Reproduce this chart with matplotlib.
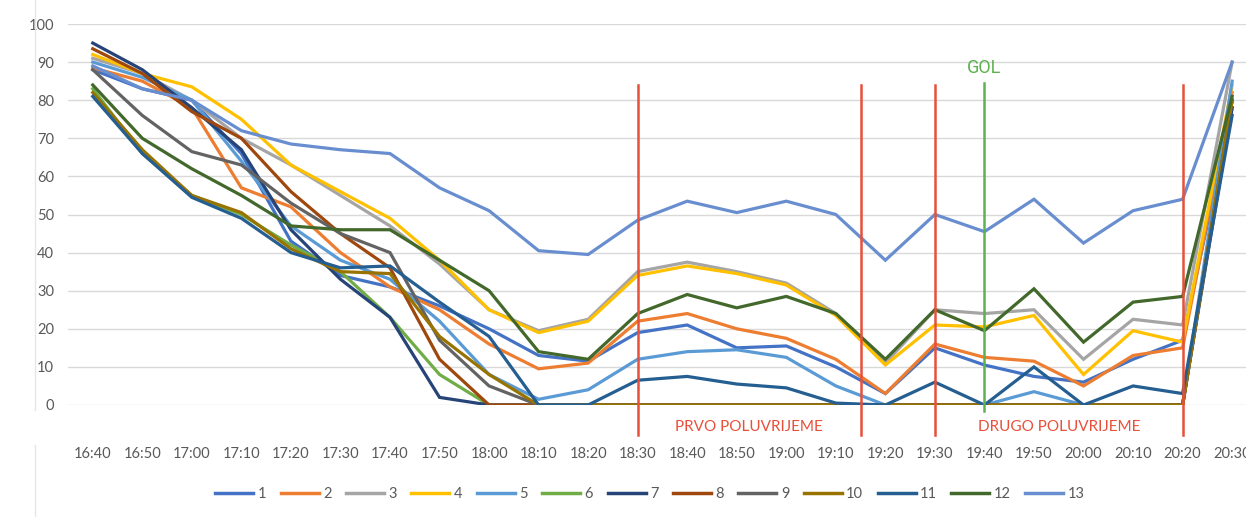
import numpy as np
import matplotlib.pyplot as plt
from matplotlib.lines import Line2D

times = ["16:40", "16:50", "17:00", "17:10", "17:20", "17:30", "17:40", "17:50",
         "18:00", "18:10", "18:20", "18:30", "18:40", "18:50", "19:00", "19:10",
         "19:20", "19:30", "19:40", "19:50", "20:00", "20:10", "20:20", "20:30"]

s1 = [88, 83, 80, 66, 43, 34, 31, 26, 20, 13, 11.5, 19, 21, 15, 15.5, 10, 3, 15, 10.5, 7.5, 6, 12, 17, 78]
s2 = [88.5, 85, 78, 57, 52, 40, 31, 25, 16, 9.5, 11, 22, 24, 20, 17.5, 12, 3, 16, 12.5, 11.5, 5, 13, 15, 82]
s3 = [91, 87, 80, 70, 63, 55, 47, 37, 25, 19.5, 22.5, 35, 37.5, 35, 32, 24, 11, 25, 24, 25, 12, 22.5, 21, 90]
s4 = [92, 87, 83.5, 75, 63, 56, 49, 38, 25, 19, 22, 34, 36.5, 34.5, 31.5, 23.5, 10.5, 21, 20.5, 23.5, 8, 19.5, 16.5, 84]
s5 = [90, 86, 80, 64, 47, 38, 33, 22, 8, 1.5, 4, 12, 14, 14.5, 12.5, 5, 0, 0, 0, 3.5, 0, 0, 0, 85]
s6 = [83, 66, 55, 50, 42, 35, 23, 8, 0, 0, 0, 0, 0, 0, 0, 0, 0, 0, 0, 0, 0, 0, 0, 80]
s7 = [95, 88, 78, 67, 46, 33, 23, 2, 0, 0, 0, 0, 0, 0, 0, 0, 0, 0, 0, 0, 0, 0, 0, 78]
s8 = [93.5, 87, 77, 70, 56, 45, 36, 12, 0, 0, 0, 0, 0, 0, 0, 0, 0, 0, 0, 0, 0, 0, 0, 80]
s9 = [88, 76, 66.5, 63, 53, 45, 40, 17, 5, 0, 0, 0, 0, 0, 0, 0, 0, 0, 0, 0, 0, 0, 0, 80]
s10 = [82, 67, 55, 50.5, 41, 35, 34.5, 18, 8, 0, 0, 0, 0, 0, 0, 0, 0, 0, 0, 0, 0, 0, 0, 80]
s11 = [81, 66, 54.5, 49, 40, 36, 36.5, 27, 18, 0, 0, 6.5, 7.5, 5.5, 4.5, 0.5, 0, 6, 0, 10, 0, 5, 3, 76]
s12 = [84, 70, 62, 55, 47, 46, 46, 38, 30, 14, 12, 24, 29, 25.5, 28.5, 24, 12, 25, 19.5, 30.5, 16.5, 27, 28.5, 81]
s13 = [89, 83, 80, 72, 68.5, 67, 66, 57, 51, 40.5, 39.5, 48.5, 53.5, 50.5, 53.5, 50, 38, 50, 45.5, 54, 42.5, 51, 54, 90]

series = [s1, s2, s3, s4, s5, s6, s7, s8, s9, s10, s11, s12, s13]
names = [str(i) for i in range(1, 14)]
colors = ["#4472C4", "#ED7D31", "#A5A5A5", "#FFC000", "#5B9BD5", "#70AD47",
          "#264478", "#9E480E", "#636363", "#997300", "#255E91", "#43682B", "#698ED0"]

# marker positions (category index) for halves and goal
half_lines = [11, 15.5, 17, 22]
goal_at = 18

plt.rcParams['font.family'] = ['Lato', 'DejaVu Sans']

fig = plt.figure(figsize=(12.46, 5.17), dpi=100)
ax = fig.add_axes([68 / 1246, 1 - 405 / 517, 1 - 68 / 1246, (405 - 24) / 517])

x = np.arange(len(times))
for vals, c in zip(series, colors):
    ax.plot(x, vals, color=c, lw=2.3, solid_joinstyle='miter')

for hx in half_lines:
    ax.plot([hx, hx], [-7.9, 84], color="#E8503A", lw=1.8, clip_on=False, zorder=5)
ax.plot([goal_at, goal_at], [-1.5, 84.5], color="#5DB14E", lw=1.8, clip_on=False, zorder=5)

ax.text(goal_at, 88.5, "GOL", color="#5DB14E", fontsize=13, ha="center", va="center",
        family=["Roboto", "DejaVu Sans"], fontstretch="condensed")
ax.text((half_lines[0] + half_lines[1]) / 2, -5.8, "PRVO POLUVRIJEME", color="#E8503A",
        fontsize=11, ha="center", va="center")
ax.text((half_lines[2] + half_lines[3]) / 2, -5.8, "DRUGO POLUVRIJEME", color="#E8503A",
        fontsize=11, ha="center", va="center")

ax.set_xlim(-0.5, 23.28)
ax.set_ylim(0, 100)
ax.set_yticks(np.arange(0, 101, 10))
ax.set_xticks(x)
ax.set_xticklabels(times)
ax.yaxis.grid(True, color="#D9D9D9", lw=1)
ax.set_axisbelow(True)
for sp in ax.spines.values():
    sp.set_visible(False)
ax.tick_params(axis="x", length=0, pad=30, labelsize=10.5, labelcolor="#595959")
ax.tick_params(axis="y", length=0, pad=10, labelsize=10.5, labelcolor="#595959")

# faint frame line at the left
fig.add_artist(Line2D([35 / 1246, 35 / 1246], [1 - 410 / 517, 1.0], color="#E6E6E6", lw=1))
fig.add_artist(Line2D([35 / 1246, 35 / 1246], [0, 1 - 445 / 517], color="#E6E6E6", lw=1))

handles = [Line2D([0], [0], color=c, lw=2.5) for c in colors]
fig.legend(handles, names, loc="center", bbox_to_anchor=(650 / 1246, 1 - 494 / 517),
           ncol=13, frameon=False, fontsize=10.5, handlelength=2.6, handletextpad=0.3,
           columnspacing=1.0, labelcolor="#595959")

fig.savefig("out.png", dpi=100)
